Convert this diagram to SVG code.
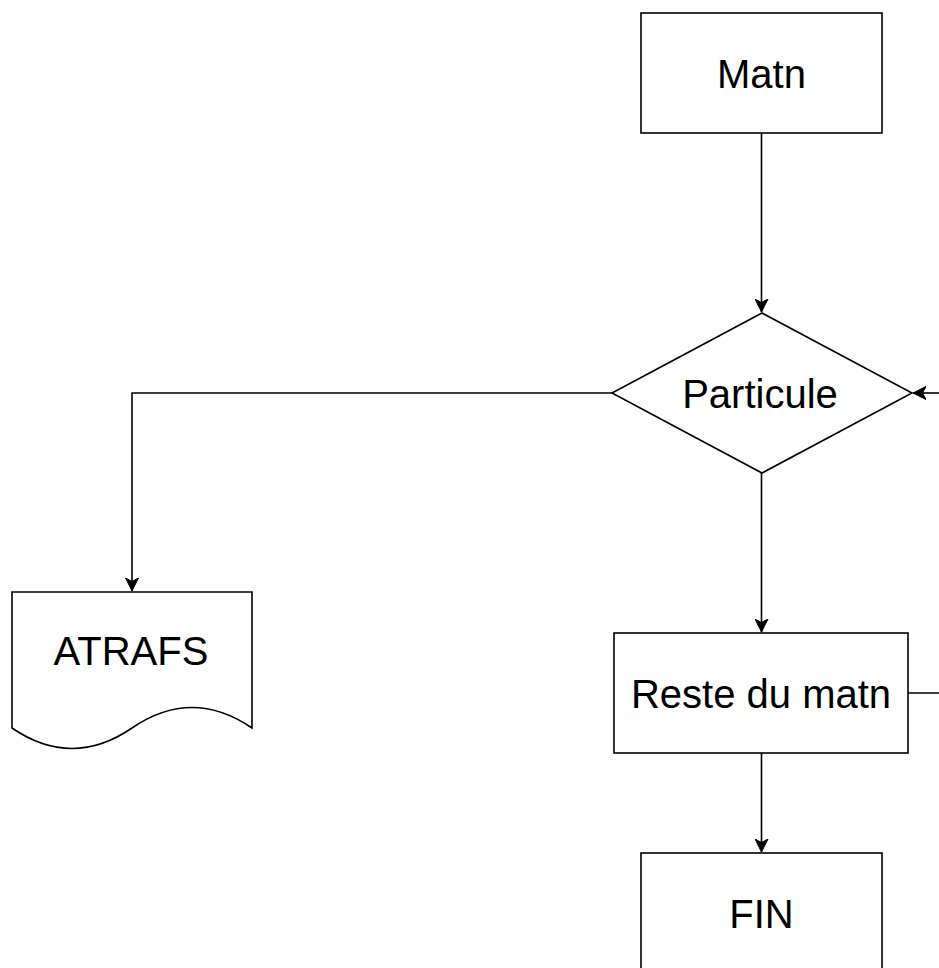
<svg xmlns="http://www.w3.org/2000/svg" width="939" height="968" viewBox="0 0 939 968">
  <defs>
    <style>
      .shape { fill: #ffffff; stroke: #000000; stroke-width: 1.6; }
      .edge { fill: none; stroke: #000000; stroke-width: 1.6; }
      .label { font-family: "Liberation Sans", Arial, sans-serif; font-size: 40px; fill: #000000; text-anchor: middle; }
    </style>
    <marker id="arrow" viewBox="0 0 14 14" refX="13" refY="7" markerWidth="14" markerHeight="14" markerUnits="userSpaceOnUse" orient="auto">
      <path d="M0,0.5 L13,7 L0,13.5 L3.5,7 Z" fill="#000000" stroke="#000000" stroke-width="1"/>
    </marker>
  </defs>
  <rect width="939" height="968" fill="#ffffff"/>

  <g id="connectors">
    <!-- Matn -> Particule -->
    <path class="edge" d="M761.5,133 L761.5,312" marker-end="url(#arrow)"/>
    <!-- Particule -> Reste du matn -->
    <path class="edge" d="M761.5,473 L761.5,632" marker-end="url(#arrow)"/>
    <!-- Reste du matn -> FIN -->
    <path class="edge" d="M761.5,753 L761.5,852" marker-end="url(#arrow)"/>
    <!-- Particule -> ATRAFS -->
    <path class="edge" d="M612,393 L132,393 L132,591" marker-end="url(#arrow)"/>
    <!-- loop back into Particule from the right -->
    <path class="edge" d="M945,393 L913,393" marker-end="url(#arrow)"/>
    <!-- Reste du matn outgoing to the right -->
    <path class="edge" d="M908,693 L945,693"/>
  </g>

  <g id="node-matn">
    <rect class="shape" x="641" y="13" width="241" height="120"/>
    <text class="label" x="761.5" y="88">Matn</text>
  </g>

  <g id="node-particule">
    <path class="shape" d="M762,313 L912,393 L762,473 L612,393 Z"/>
    <text class="label" x="760" y="408">Particule</text>
  </g>

  <g id="node-atrafs">
    <path class="shape" d="M12,592 L252,592 L252,728 Q192,687 132,728 Q72,769 12,728 Z"/>
    <text class="label" x="131" y="665">ATRAFS</text>
  </g>

  <g id="node-reste">
    <rect class="shape" x="614" y="633" width="294" height="120"/>
    <text class="label" x="761" y="708">Reste du matn</text>
  </g>

  <g id="node-fin">
    <rect class="shape" x="641" y="853" width="241" height="120"/>
    <text class="label" x="761.5" y="928">FIN</text>
  </g>
</svg>
